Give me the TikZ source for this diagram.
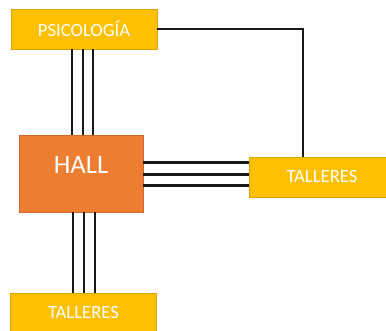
\documentclass[tikz,border=0pt]{standalone}
\usepackage{fontspec}
\setmainfont{Carlito}
\usetikzlibrary{calc}

\definecolor{amarillo}{HTML}{FFC000}
\definecolor{naranja}{HTML}{ED7D31}

\begin{document}
\begin{tikzpicture}[x=0.75pt,y=0.75pt,
    area/.style={fill=amarillo, draw=amarillo!85!black, line width=0.4pt, text=white,
      font=\fontsize{14}{16}\selectfont, minimum width=146*0.75pt, minimum height=40*0.75pt, inner sep=0pt},
    hallbox/.style={fill=naranja, draw=naranja!85!black, line width=0.4pt, text=white,
      font=\fontsize{20}{22}\selectfont, minimum width=124*0.75pt, minimum height=77*0.75pt,
      text height=13pt, text depth=13pt, inner sep=0pt},
    wire/.style={line width=1.6pt, black!90}]
\useasboundingbox (0,0) rectangle (386,331);
\clip (0,0) rectangle (386,331);
\node[area] (psico) at (84,302) {PSICOLOGÍA};
\node[hallbox] (hall) at (81,157.5) {HALL};
\node[area] (tal1) at (322,154) {TALLERES};
\node[area] (tal2) at (83.5,18) {TALLERES};
% pasillos triples
\foreach \d in {-9,2,12}
  \draw[wire] ($(hall.north)+(\d,0)$) -- ($(hall.north -| psico.south)+(\d-3,0)$) -- ($(psico.south)+(\d-3,0)$);
\foreach \d in {-8,3,14}
  \draw[wire] ($(hall.south)+(\d,0)$) -- ($(tal2.north)+(\d-2.5,0)$);
\foreach \d in {11,-1,-12}
  \draw[wire] ($(hall.east)+(0,\d)$) -- ($(hall.east -| tal1.west)+(0,\d)$);
% conexion simple
\draw[wire] (psico.east) -| ($(tal1.north)+(-19,0)$);
\end{tikzpicture}
\end{document}
